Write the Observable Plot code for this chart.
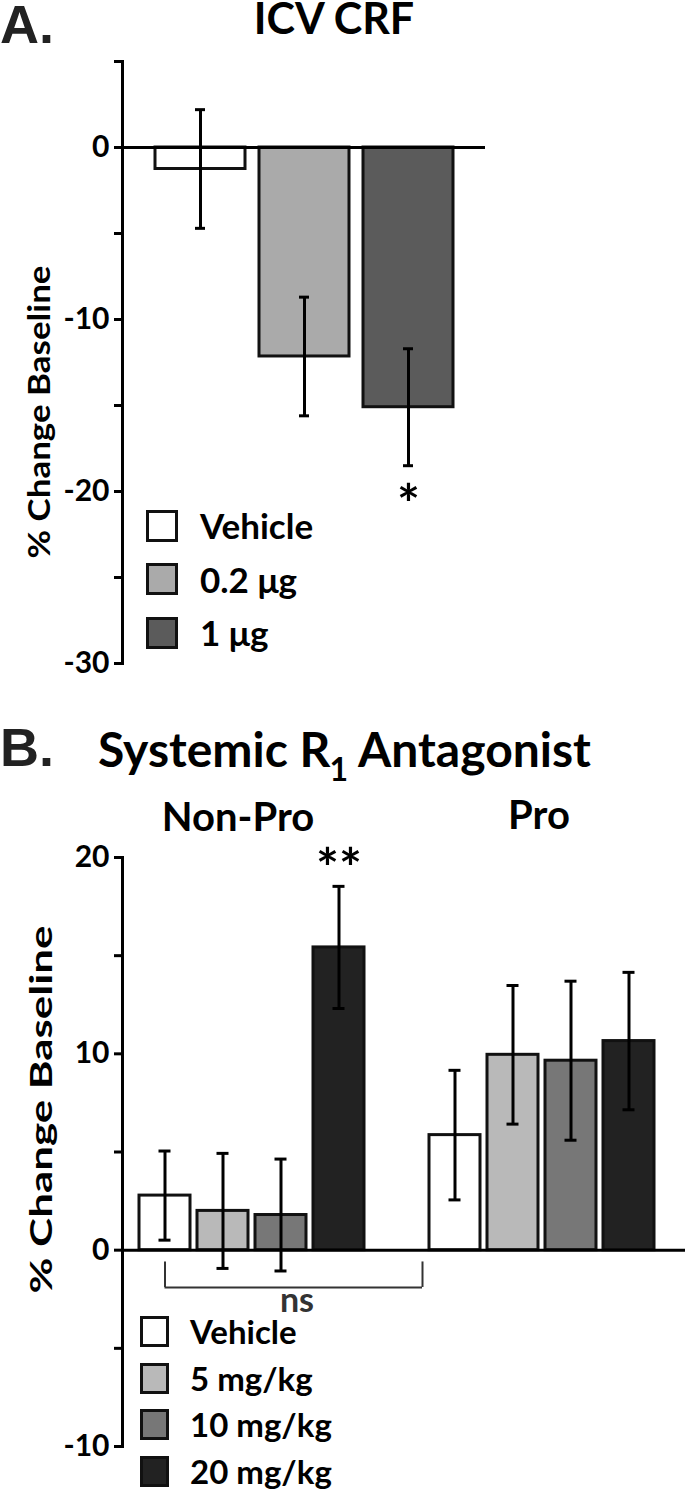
<!DOCTYPE html>
<html><head><meta charset="utf-8">
<script src="https://cdn.jsdelivr.net/npm/d3@7"></script>
<script src="https://cdn.jsdelivr.net/npm/@observablehq/plot@0.6"></script>
<style>
body{margin:0;background:#fff;}
#page{position:relative;width:685px;height:1489px;overflow:hidden;font-family:Lato,sans-serif;font-weight:700;color:#000;}
.abs{position:absolute;white-space:nowrap;line-height:0.8;}
.panel{position:absolute;left:0;}
.letter{font-family:"Liberation Sans",Arial,sans-serif;font-weight:700;color:#222;}
.ctr{transform:translateX(-50%);}
.leg{position:absolute;display:flex;align-items:center;white-space:nowrap;line-height:1;}
.sw{box-sizing:border-box;border:3px solid #111;flex:none;}
</style></head><body><div id="page"></div>
<script>
// ---------- Panel A: ICV CRF ----------
const aDoses = ["Vehicle", "0.2 μg", "1 μg"];
const aMeans = [-1.25, -12.15, -15.1];
const aSems  = [3.45, 3.45, 3.4];
const aFills = ["#ffffff", "#aaaaaa", "#5b5b5b"];
const aSig   = ["", "", "*"];
const aYTicks = [5, 0, -5, -10, -15, -20, -25, -30];
const aYLabeled = [0, -10, -20, -30];

// ---------- Panel B: Systemic R1 Antagonist ----------
const bGroups = ["Non-Pro", "Pro"];
const bDoses = ["Vehicle", "5 mg/kg", "10 mg/kg", "20 mg/kg"];
const bNonProMeans = [2.78, 2.0, 1.79, 15.42];
const bNonProSems  = [2.27, 2.93, 2.85, 3.11];
const bProMeans    = [5.86, 9.95, 9.65, 10.65];
const bProSems     = [3.3, 3.53, 4.05, 3.5];
const bNonProSig   = ["", "", "", "**"];
const bProSig      = ["", "", "", ""];
const bFills = ["#ffffff", "#b9b9b9", "#777777", "#222222"];
const bYTicks = [20, 15, 10, 5, 0, -5, -10];
const bYLabeled = [20, 10, 0, -10];
// "ns" comparison bracket (Non-Pro Vehicle vs Pro)
const nsBracketTop = -0.6;
const nsBracketBottom = -1.9;

const page = document.getElementById("page");
const FONT = "Lato, sans-serif";

function addDiv(html, cls, css) {
  const d = document.createElement("div");
  d.className = cls;
  d.innerHTML = html;
  Object.assign(d.style, css);
  page.appendChild(d);
  return d;
}

// ---------- Plot A ----------
const rowsA = aDoses.map((d, i) => ({dose: d, mean: aMeans[i], sem: aSems[i], sig: aSig[i]}));
const plotA = Plot.plot({
  width: 685, height: 690,
  marginTop: 61, marginBottom: 27, marginLeft: 122, marginRight: 200,
  style: {fontFamily: FONT, fontWeight: "bold", fontSize: "30px", color: "#000", background: "transparent", overflow: "visible"},
  x: {type: "band", domain: aDoses, paddingInner: 0.139, paddingOuter: 0.307, axis: null},
  y: {domain: [-30, 5], label: null},
  color: {domain: aDoses, range: aFills},
  marks: [
    Plot.barY(rowsA, {x: "dose", y: "mean", fill: "dose", stroke: "#111", strokeWidth: 3}),
    Plot.ruleY([0], {stroke: "#000", strokeWidth: 3}),
    Plot.ruleX(rowsA, {x: "dose", y1: d => d.mean - d.sem, y2: d => d.mean + d.sem, stroke: "#000", strokeWidth: 3}),
    Plot.tickY(rowsA, {x: "dose", y: d => d.mean - d.sem, stroke: "#000", strokeWidth: 3, inset: 40}),
    Plot.tickY(rowsA, {x: "dose", y: d => d.mean + d.sem, stroke: "#000", strokeWidth: 3, inset: 40}),
    Plot.text(rowsA.filter(d => d.sig), {x: "dose", y: d => d.mean - d.sem, text: "sig", fontSize: 54, dy: 40, fill: "#000"}),
    Plot.axisY({ticks: aYTicks, tickFormat: d => aYLabeled.includes(d) ? String(d) : "", tickSize: 8, tickPadding: 5, strokeWidth: 3, fontSize: 30, label: null}),
    Plot.frame({anchor: "left", stroke: "#000", strokeWidth: 3}),
    Plot.text(["% Change Baseline"], {frameAnchor: "left", rotate: -90, textAnchor: "start", dx: -82, dy: 196, fontSize: 30, fill: "#000", className: "ylabA"})
  ]
});
plotA.classList.add("panel");
plotA.style.top = "0px";
page.appendChild(plotA);

// ---------- Plot B ----------
const keyOf = (g, d) => g + " · " + d;
const rowsB = [];
bGroups.forEach((g, gi) => {
  const means = gi === 0 ? bNonProMeans : bProMeans;
  const sems = gi === 0 ? bNonProSems : bProSems;
  const sig = gi === 0 ? bNonProSig : bProSig;
  bDoses.forEach((d, i) => rowsB.push({group: g, dose: d, key: keyOf(g, d), mean: means[i], sem: sems[i], sig: sig[i]}));
});
const gapKey = "gap";
const xDomainB = [...bDoses.map(d => keyOf(bGroups[0], d)), gapKey, ...bDoses.map(d => keyOf(bGroups[1], d))];
const nsFrom = keyOf(bGroups[0], bDoses[0]);
const nsLabelAt = keyOf(bGroups[0], bDoses[2]);

const plotB = Plot.plot({
  width: 685, height: 799,
  marginTop: 167, marginBottom: 43, marginLeft: 122, marginRight: 0,
  style: {fontFamily: FONT, fontWeight: "bold", fontSize: "30px", color: "#000", background: "transparent", overflow: "visible"},
  x: {type: "band", domain: xDomainB, paddingInner: 0.125, paddingOuter: 0.391, align: 0.342, axis: null},
  y: {domain: [-10, 20], label: null},
  color: {domain: bDoses, range: bFills},
  marks: [
    Plot.barY(rowsB, {x: "key", y: "mean", fill: "dose", stroke: "#111", strokeWidth: 3}),
    Plot.ruleY([0], {stroke: "#000", strokeWidth: 3}),
    Plot.ruleX(rowsB, {x: "key", y1: d => d.mean - d.sem, y2: d => d.mean + d.sem, stroke: "#000", strokeWidth: 3}),
    Plot.tickY(rowsB, {x: "key", y: d => d.mean - d.sem, stroke: "#000", strokeWidth: 3, inset: 19.5}),
    Plot.tickY(rowsB, {x: "key", y: d => d.mean + d.sem, stroke: "#000", strokeWidth: 3, inset: 19.5}),
    Plot.text(rowsB.filter(d => d.sig), {x: "key", y: d => d.mean + d.sem, text: "sig", fontSize: 54, dy: -17, fill: "#000"}),
    // ns bracket
    Plot.ruleY([nsBracketBottom], {x1: () => nsFrom, x2: () => gapKey, insetLeft: 25.5, stroke: "#333", strokeWidth: 2}),
    Plot.ruleX([nsFrom], {y1: nsBracketTop, y2: nsBracketBottom, stroke: "#333", strokeWidth: 2}),
    Plot.ruleX([gapKey], {y1: nsBracketTop, y2: nsBracketBottom, dx: 25.5, stroke: "#333", strokeWidth: 2}),
    Plot.text(["ns"], {x: () => nsLabelAt, y: () => nsBracketBottom, lineAnchor: "top", dx: 16, fontSize: 34, fill: "#333"}),
    Plot.axisY({ticks: bYTicks, tickFormat: d => bYLabeled.includes(d) ? String(d) : "", tickSize: 8, tickPadding: 5, strokeWidth: 3, fontSize: 30, label: null}),
    Plot.frame({anchor: "left", stroke: "#000", strokeWidth: 3}),
    Plot.text(["% Change Baseline"], {frameAnchor: "left", rotate: -90, textAnchor: "start", dx: -80, dy: 141.5, fontSize: 30, fill: "#000", className: "ylabB"})
  ]
});
plotB.classList.add("panel");
plotB.style.top = "690px";
page.appendChild(plotB);

// stretch rotated y labels to reference lengths
const la = plotA.querySelector(".ylabA text");
if (la) { la.setAttribute("textLength", 293); la.setAttribute("lengthAdjust", "spacingAndGlyphs"); }
const lb = plotB.querySelector(".ylabB text");
if (lb) { lb.setAttribute("textLength", 368); lb.setAttribute("lengthAdjust", "spacingAndGlyphs"); }

// ---------- Titles ----------
addDiv("A.", "abs letter", {left: "0px", top: "3px", fontSize: "54px"});
addDiv("ICV CRF", "abs ctr", {left: "334px", top: "1px", fontSize: "43px"});
addDiv("B.", "abs letter", {left: "0px", top: "726px", fontSize: "54px"});
addDiv('Systemic R<span style="font-size:32px;position:relative;top:14px;margin-left:-1px">1</span> Antagonist', "abs", {left: "98px", top: "730px", fontSize: "48px"});
addDiv(bGroups[0], "abs ctr", {left: "238px", top: "800px", fontSize: "40px"});
addDiv(bGroups[1], "abs ctr", {left: "539px", top: "798px", fontSize: "40px"});

// ---------- Legends ----------
aDoses.forEach((d, i) => {
  addDiv(`<div class="sw" style="width:32px;height:32px;background:${aFills[i]}"></div><span style="margin-left:22px">${d}</span>`,
    "leg", {left: "146px", top: (508 + i * 53.5) + "px", fontSize: "35px"});
});
bDoses.forEach((d, i) => {
  addDiv(`<div class="sw" style="width:29px;height:31px;background:${bFills[i]}"></div><span style="margin-left:21px">${d}</span>`,
    "leg", {left: "140px", top: (1315 + i * 46.5) + "px", fontSize: "33px"});
});
</script>
</body></html>
